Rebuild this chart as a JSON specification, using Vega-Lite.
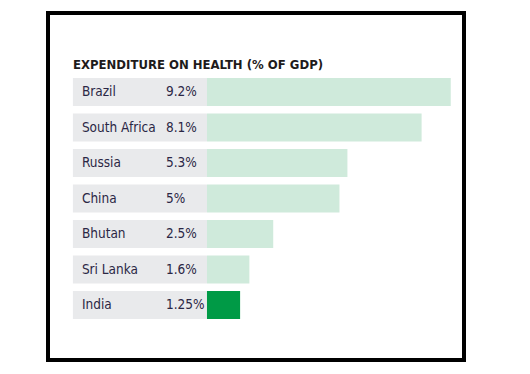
{
  "$schema": "https://vega.github.io/schema/vega-lite/v6.json",
  "width": 416,
  "height": 347,
  "autosize": {"type": "none"},
  "padding": {"left": 48, "top": 13, "right": 66, "bottom": 14},
  "background": "white",
  "config": {
    "view": {"stroke": "black", "strokeWidth": 4},
    "font": "DejaVu Sans Condensed"
  },
  "title": {
    "text": "EXPENDITURE ON HEALTH (% OF GDP)",
    "anchor": "start",
    "frame": "group",
    "orient": "top",
    "offset": -59,
    "dx": 25,
    "font": "DejaVu Sans Condensed",
    "fontSize": 13,
    "fontWeight": "bold",
    "color": "#1e1b1b"
  },
  "data": {
    "values": [
      {"country": "Brazil", "value": 9.2, "label": "9.2%", "group": "other"},
      {"country": "South Africa", "value": 8.1, "label": "8.1%", "group": "other"},
      {"country": "Russia", "value": 5.3, "label": "5.3%", "group": "other"},
      {"country": "China", "value": 5, "label": "5%", "group": "other"},
      {"country": "Bhutan", "value": 2.5, "label": "2.5%", "group": "other"},
      {"country": "Sri Lanka", "value": 1.6, "label": "1.6%", "group": "other"},
      {"country": "India", "value": 1.25, "label": "1.25%", "group": "India"}
    ]
  },
  "encoding": {
    "y": {
      "field": "country",
      "type": "nominal",
      "sort": null,
      "axis": null,
      "scale": {
        "domain": [" ", "Brazil", "South Africa", "Russia", "China", "Bhutan", "Sri Lanka", "India", "  "],
        "paddingInner": 0.211,
        "paddingOuter": 0.493,
        "align": 0.843
      }
    }
  },
  "layer": [
    {
      "mark": {"type": "bar", "color": "#e9eaec"},
      "encoding": {
        "x": {"datum": -5.06, "type": "quantitative", "scale": {"domain": [-6, 9.7], "nice": false, "zero": false}, "axis": null},
        "x2": {"datum": 0}
      }
    },
    {
      "mark": {"type": "bar"},
      "encoding": {
        "x": {"field": "value", "type": "quantitative"},
        "color": {
          "field": "group",
          "type": "nominal",
          "scale": {"domain": ["other", "India"], "range": ["#cfeadb", "#009a46"]},
          "legend": null
        }
      }
    },
    {
      "mark": {"type": "text", "align": "left", "baseline": "middle", "dx": 9, "fontSize": 13.5, "color": "#2b2745"},
      "encoding": {
        "x": {"datum": -5.06, "type": "quantitative"},
        "text": {"field": "country"}
      }
    },
    {
      "mark": {"type": "text", "align": "left", "baseline": "middle", "dx": -41, "fontSize": 13.5, "color": "#2b2745"},
      "encoding": {
        "x": {"datum": 0, "type": "quantitative"},
        "text": {"field": "label"}
      }
    }
  ]
}
